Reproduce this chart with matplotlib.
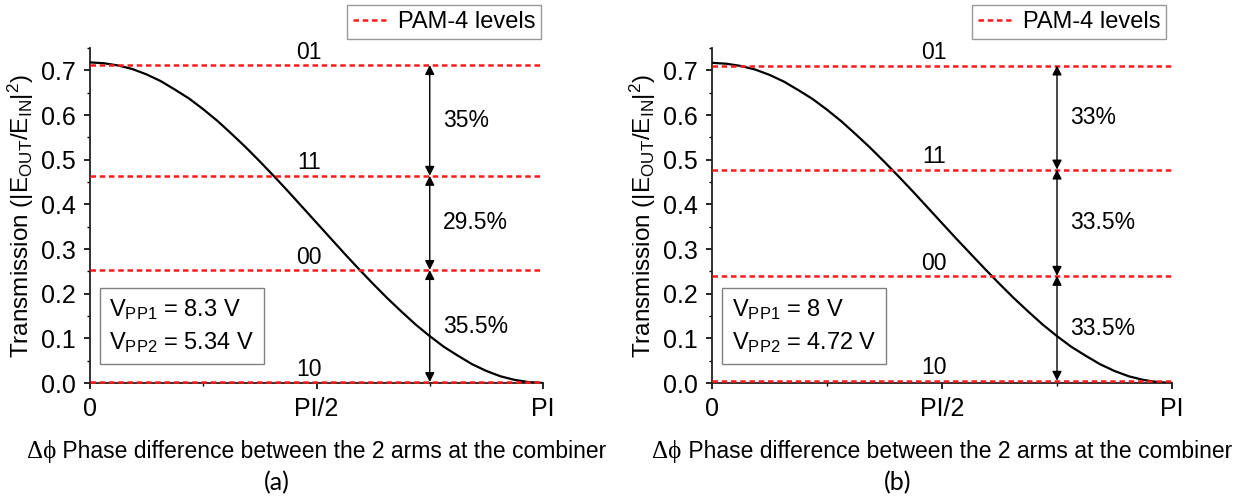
import numpy as np
import matplotlib
matplotlib.use("Agg")
import matplotlib.pyplot as plt
from matplotlib.offsetbox import TextArea, HPacker, AnchoredOffsetbox
from matplotlib.ticker import MultipleLocator

plt.rcParams['font.family'] = ['Liberation Sans', 'DejaVu Sans']
plt.rcParams['mathtext.fontset'] = 'custom'
plt.rcParams['mathtext.rm'] = 'Liberation Sans'
plt.rcParams['mathtext.it'] = 'Liberation Sans:italic'

trans_a = [0.718, 0.716, 0.711, 0.703, 0.691, 0.676, 0.657, 0.637, 0.613,
           0.587, 0.558, 0.528, 0.496, 0.463, 0.429, 0.394, 0.359, 0.324,
           0.289, 0.255, 0.222, 0.190, 0.160, 0.131, 0.105, 0.081, 0.061,
           0.042, 0.027, 0.015, 0.007, 0.002, 0.000]
trans_b = [0.717, 0.715, 0.710, 0.702, 0.690, 0.675, 0.656, 0.636, 0.612,
           0.586, 0.557, 0.527, 0.495, 0.462, 0.428, 0.393, 0.358, 0.323,
           0.289, 0.255, 0.222, 0.190, 0.160, 0.131, 0.105, 0.081, 0.061,
           0.042, 0.027, 0.015, 0.007, 0.002, 0.000]

level_codes = ["01", "11", "00", "10"]
levels_a = [0.712, 0.464, 0.253, 0.002]
levels_b = [0.711, 0.478, 0.240, 0.005]
gaps_a = ["35%", "29.5%", "35.5%"]
gaps_b = ["33%", "33.5%", "33.5%"]
vpp_a = ["8.3 V", "5.34 V"]
vpp_b = ["8 V", "4.72 V"]
captions = ["(a)", "(b)"]

xtick_vals = [0, np.pi / 2, np.pi]
xtick_labels = ["0", "PI/2", "PI"]

fig = plt.figure(figsize=(12.52, 5.01), dpi=100)
ax_a = fig.add_axes([0.0719, 0.2355, 0.3618, 0.6685])
ax_b = fig.add_axes([0.5687, 0.2355, 0.3674, 0.6685])

RED_DASH = (0, (2.2, 1.5))


def draw_panel(ax, trans, levels, gaps, vpp, caption, legend_x, cap_x):
    phase = np.linspace(0, np.pi, len(trans))
    ax.plot(phase, trans, color="black", lw=1.6, zorder=3)
    for i, (lev, code) in enumerate(zip(levels, level_codes)):
        ax.plot([0, np.pi], [lev, lev], color="#ff1a1a", lw=1.8,
                linestyle=RED_DASH, zorder=4, clip_on=False,
                label="PAM-4 levels" if i == 0 else None)
        ax.text(0.483 * np.pi, lev + 0.003, code, ha="center", va="bottom",
                fontsize=16.5)
    xa = 0.75 * np.pi
    for i in range(3):
        ax.annotate("", xy=(xa, levels[i]), xytext=(xa, levels[i + 1]),
                    arrowprops=dict(arrowstyle="<|-|>", color="black",
                                    lw=1.0, mutation_scale=14,
                                    shrinkA=0, shrinkB=0), zorder=5)
        ax.text(xa + 0.029 * np.pi, (levels[i] + levels[i + 1]) / 2, gaps[i],
                ha="left", va="center", fontsize=16.5)

    ax.text(0.043, 0.17,
            "V$_{\\mathrm{PP1}}$ = %s\nV$_{\\mathrm{PP2}}$ = %s" % (vpp[0], vpp[1]),
            transform=ax.transAxes, ha="left", va="center", fontsize=17,
            linespacing=1.4,
            bbox=dict(boxstyle="square,pad=0.4", fc="white", ec="#808080", lw=1))

    ax.set_xlim(0, np.pi)
    ax.set_ylim(0, 0.75)
    ax.set_xticks(xtick_vals)
    ax.set_xticklabels(xtick_labels)
    ax.xaxis.set_minor_locator(MultipleLocator(np.pi / 4))
    ax.yaxis.set_major_locator(MultipleLocator(0.1))
    ax.yaxis.set_minor_locator(MultipleLocator(0.05))
    ax.yaxis.set_major_formatter(matplotlib.ticker.FormatStrFormatter("%.1f"))
    ax.tick_params(which="major", direction="out", length=4, width=1.2,
                   labelsize=18, pad=6)
    ax.tick_params(which="minor", direction="out", length=2.5, width=1.0)
    for s in ["top", "right"]:
        ax.spines[s].set_visible(False)
    for s in ["left", "bottom"]:
        ax.spines[s].set_linewidth(1.3)
        ax.spines[s].set_color("#222222")
    ax.set_ylabel("Transmission (|E$_{\\mathrm{OUT}}$/E$_{\\mathrm{IN}}$|$^{2}$)",
                  fontsize=17.5, labelpad=4)

    leg = ax.legend(loc="upper right", bbox_to_anchor=(legend_x, 1.128),
                    frameon=True, fancybox=False, fontsize=17,
                    handlelength=1.4, borderpad=0.25, handletextpad=0.5,
                    borderaxespad=0)
    leg.get_frame().set_edgecolor("#808080")
    leg.get_frame().set_linewidth(1)

    t1 = TextArea("Δϕ", textprops=dict(fontsize=18, family="Liberation Serif"))
    t2 = TextArea(" Phase difference between the 2 arms at the combiner",
                  textprops=dict(fontsize=16.5))
    box = HPacker(children=[t1, t2], align="baseline", pad=0, sep=0)
    anchored = AnchoredOffsetbox(loc="center", child=box, pad=0, frameon=False,
                                 bbox_to_anchor=(0.5, -0.203),
                                 bbox_transform=ax.transAxes, borderpad=0)
    ax.add_artist(anchored)
    ax.text(cap_x, -0.296, caption, transform=ax.transAxes, ha="center",
            va="center", fontsize=18, family=["Lato", "DejaVu Sans"])


draw_panel(ax_a, trans_a, levels_a, gaps_a, vpp_a, captions[0], 0.996, 0.413)
draw_panel(ax_b, trans_b, levels_b, gaps_b, vpp_b, captions[1], 0.987, 0.404)

fig.savefig("out.png", dpi=100)
